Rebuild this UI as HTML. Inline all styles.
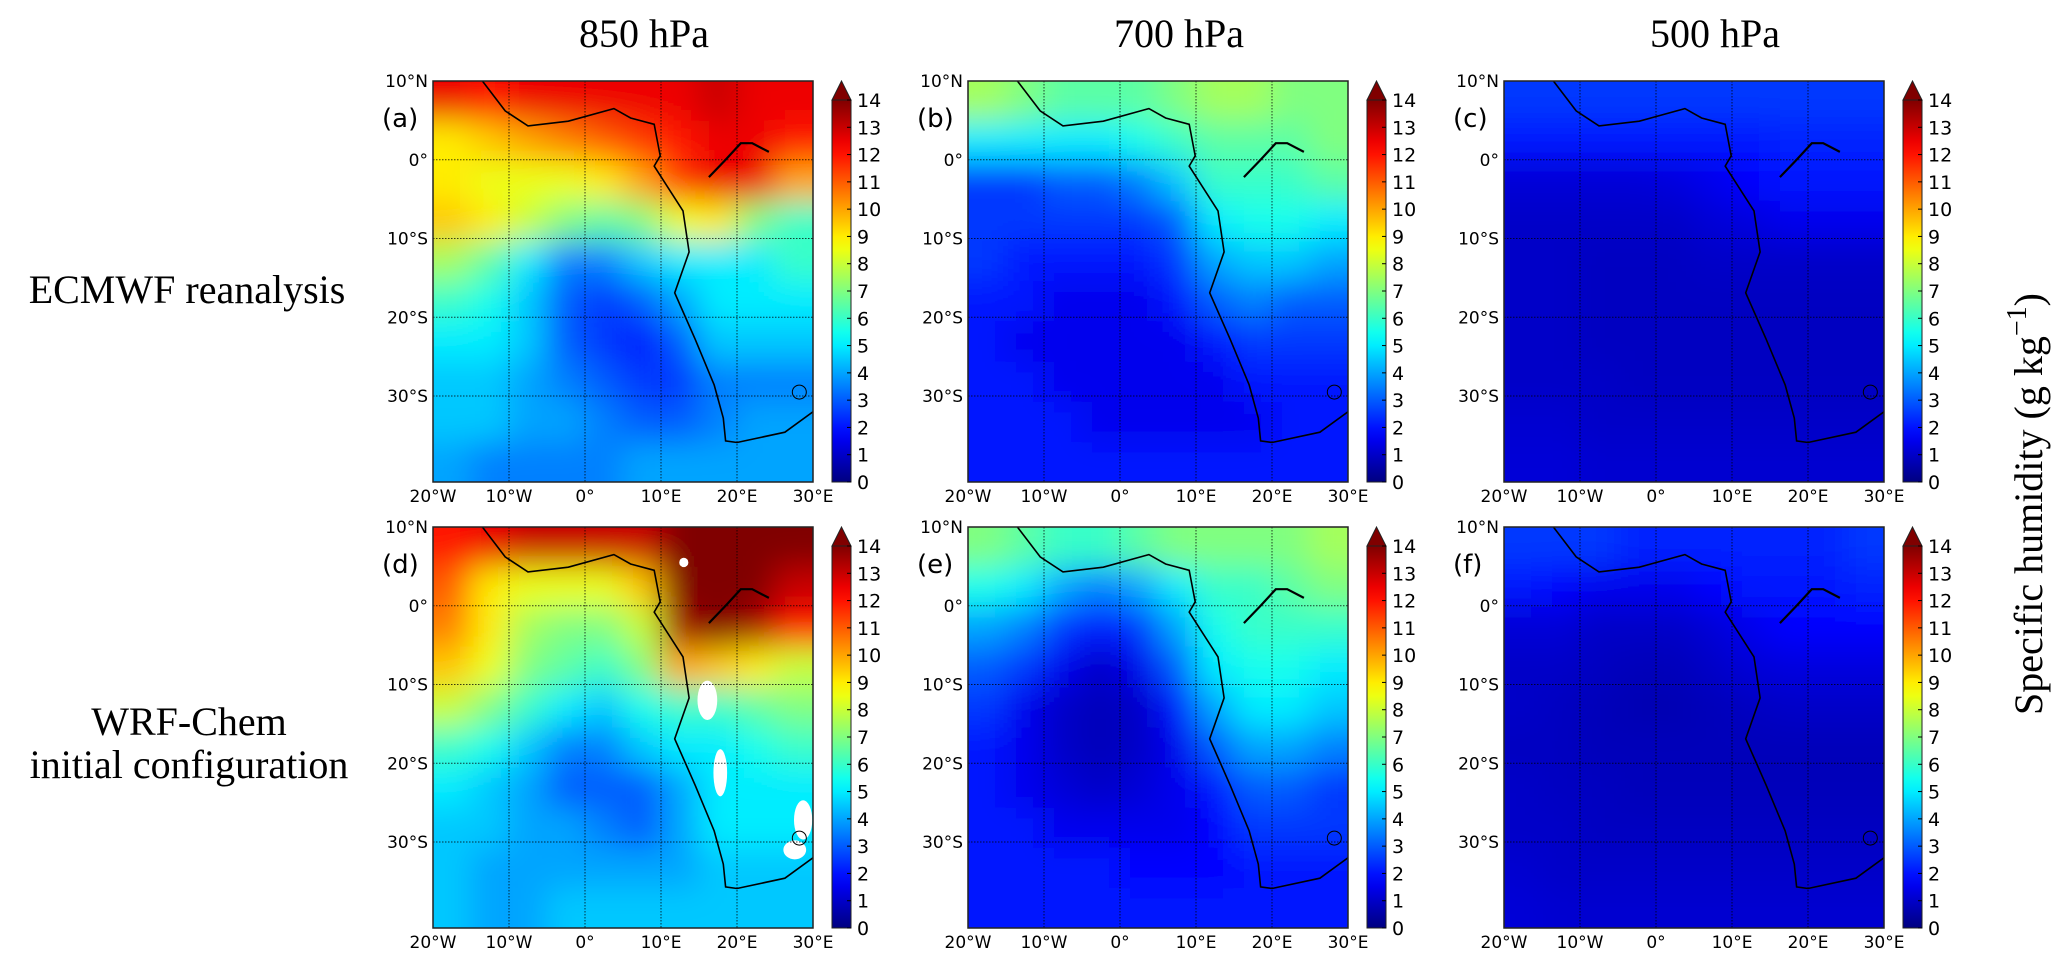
<!DOCTYPE html>
<html><head><meta charset="utf-8">
<style>
html,body{margin:0;padding:0;background:#fff;}
body{width:2067px;height:966px;overflow:hidden;position:relative;}
svg{position:absolute;left:0;top:0;}
</style></head>
<body>
<svg id="fig" width="2067" height="966" viewBox="0 0 2067 966" xmlns="http://www.w3.org/2000/svg">
<defs>
<filter id="smooth" x="-5%" y="-5%" width="110%" height="110%"><feGaussianBlur stdDeviation="16"/></filter>
<linearGradient id="jetgrad" x1="0" y1="1" x2="0" y2="0"></linearGradient>
</defs>
<text x="644" y="47" font-family="Liberation Serif, serif" font-size="40" text-anchor="middle">850 hPa</text>
<text x="1179" y="47" font-family="Liberation Serif, serif" font-size="40" text-anchor="middle">700 hPa</text>
<text x="1715" y="47" font-family="Liberation Serif, serif" font-size="40" text-anchor="middle">500 hPa</text>
<text x="187" y="303" font-family="Liberation Serif, serif" font-size="40" text-anchor="middle">ECMWF reanalysis</text>
<text x="189" y="735" font-family="Liberation Serif, serif" font-size="40" text-anchor="middle">WRF-Chem</text>
<text x="189" y="778" font-family="Liberation Serif, serif" font-size="40" text-anchor="middle">initial configuration</text>
<text transform="translate(2042,504) rotate(-90)" font-family="Liberation Serif, serif" font-size="40" text-anchor="middle">Specific humidity (g kg<tspan font-size="28" dy="-16">−1</tspan><tspan dy="16">)</tspan></text>
</svg>
<script>
// ---- data ----
const lonCenters = [-17.5,-12.5,-7.5,-2.5,2.5,7.5,12.5,17.5,22.5,27.5];
const latCenters = [7.45,2.35,-2.75,-7.85,-12.95,-18.05,-23.15,-28.25,-33.35,-38.45];
const latTicks = [10,0,-10,-20,-30];
const latTickLabels = ["10°N","0°","10°S","20°S","30°S"];
const lonTicks = [-20,-10,0,10,20,30];
const lonTickLabels = ["20°W","10°W","0°","10°E","20°E","30°E"];
const cbTicks = [0,1,2,3,4,5,6,7,8,9,10,11,12,13,14];
const panelLabels = ["(a)","(b)","(c)","(d)","(e)","(f)"];
const panelA = [
[12.5,12,12.5,12.5,12.5,12.5,12.5,13,12.5,12.5],
[9,9.5,10,10.5,11,11.5,12,12.5,12.5,12],
[9,8.5,8.5,8.5,9,10,11.5,12.5,12.5,10],
[9.5,9,8,7,6.5,7,8.5,9,7,6],
[7.5,6.5,5,3.5,3.5,4.5,5,5,5,6],
[6,5.5,4.5,3,2.5,3,4,5,5,5],
[5,5,4.5,3,2.5,2,3,4.5,4.5,4.5],
[4.5,4.5,4,3.5,3,2.5,2.5,3.5,3.5,3.5],
[4.5,4.5,4,4,3.5,3,3,3.5,4,4],
[4,3.5,3.5,3.5,3.5,4,4,4,4,4]];
const panelB = [
[7.5,7,6.5,6.5,6.5,7,7.5,7.5,7,7],
[5,5,5,5,5.5,6,6.5,6.5,6.5,7],
[2.5,2.5,3,3,3.5,4.5,6,6,6,6.5],
[2.5,2.5,2.5,2.5,2.5,3,5,5.5,5.5,5],
[2.5,2,2,2,2,2.5,4,4.5,4.5,4],
[2,2,1.5,1.5,1.5,2,3,3.5,3,3],
[2,1.5,1.5,1.5,1.5,1.5,2,2.5,2.5,2.5],
[2,2,1.5,1.5,1.5,1.5,1.5,2,2,2],
[2,2,2,1.5,1.5,1.5,1.5,1.5,2,2],
[2,2,2,2,2,2,2,2,2,2]];
const panelC = [
[2.5,2.5,2.5,2.5,2.5,2.5,2.5,2.5,2.5,2.5],
[2,2,2,2,2,2,2,2.2,2.2,2.2],
[1.2,1.2,1.2,1.2,1.3,1.5,1.8,2,2,2],
[1,1,1,1,1,1.2,1.3,1.5,1.5,1.5],
[1,1,0.9,0.9,0.9,1,1,1,1,1],
[1,1,0.9,0.9,0.9,0.9,0.9,0.9,0.9,0.9],
[1,1,0.9,0.9,0.9,0.9,0.9,0.9,0.9,0.9],
[1,1,1,0.9,0.9,0.9,0.9,0.9,0.9,0.9],
[1.1,1.1,1,1,1,1,1,1,1,1],
[1.2,1.2,1.1,1.1,1.1,1.1,1.1,1.1,1.1,1.1]];
const panelD = [
[12,12.5,13,13,13,13,14,14,14,14],
[11,9,8.5,8.5,8.5,9.5,14,14,14,13],
[10.5,9,7.5,7,7,8,13.5,14,13.5,12],
[9.5,8.5,7,6.5,6,7,10,9.5,9,8],
[8,7,6,5,4.5,5.5,6,6,6.5,7],
[6,5.5,4.5,3.5,3.5,4.5,5,5,5.5,6],
[5,4.5,4,3,3,3,4,5,5,5],
[4.5,4.5,4,4,3.5,3,4,5,5,5],
[4.5,4,4,4,4,4,4,4.5,4.5,4.5],
[4.5,4,4,4.5,4.5,4.5,4.5,4.5,4.5,4.5]];
const panelE = [
[7,6.5,6,6,6.5,7,7,7,7,7.5],
[5.5,5,4,3.5,4,5,6,6,6.5,7],
[4,3.5,2.5,2,2.5,4,5.5,6,6,6],
[3,2.5,1.5,1,1.5,3,5,5.5,5.5,5],
[2.5,1.5,1,0.8,1,2,4,5,5,4.5],
[2,1.5,1,0.8,1,1.5,3,4,4,3.5],
[2,1.5,1.2,1,1.2,1.5,2,3,3,2.5],
[2,2,1.5,1.5,1.5,1.5,1.8,2.5,2.5,2.5],
[2,2,2,2,1.8,1.8,1.8,2,2,2],
[2,2,2,2,2,2,2,2,2,2]];
const panelF = [
[2.5,2.5,2.5,2.2,2.2,2.2,2.2,2.2,2.2,2.5],
[2,1.8,1.5,1.5,1.5,1.8,2,2,2,2.2],
[1.2,1.2,1,1,1,1.2,1.5,1.8,1.8,1.8],
[1,1,0.9,0.8,0.8,1,1.2,1.3,1.3,1.3],
[1,0.9,0.8,0.7,0.7,0.8,0.9,1,1,1],
[0.9,0.9,0.8,0.8,0.8,0.8,0.8,0.8,0.8,0.8],
[1,0.9,0.9,0.8,0.8,0.8,0.8,0.8,0.8,0.8],
[1,1,0.9,0.9,0.9,0.9,0.9,0.9,0.9,0.9],
[1.1,1,1,1,1,1,1,1,1,1],
[1.2,1.1,1.1,1.1,1.1,1.1,1.1,1.1,1.1,1.1]];
const missingD = [[16.1,-12,1.3,2.5],[17.8,-21.2,0.9,3],[28.7,-27.2,1.2,2.5],[27.6,-31,1.5,1.2],[13,5.5,0.6,0.6]];
const coastLon = [-13.5,-10.5,-7.5,-2.2,3.8,6.0,9.1,9.9,9.1,12.9,13.7,11.8,14.5,17,18.2,18.5,20,26.3,30];
const coastLat = [10,6.2,4.3,4.9,6.5,5.3,4.5,0.5,-0.8,-6.5,-11.7,-16.9,-22.8,-28.6,-32.8,-35.7,-35.9,-34.6,-32];
const riverLon = [16.3,18.5,20.5,22,24.2];
const riverLat = [-2.2,0,2.1,2.1,1];

const panels = [panelA,panelB,panelC,panelD,panelE,panelF];
const NS = "http://www.w3.org/2000/svg";
const svg = document.getElementById("fig");
const lefts = [433,968,1504];
const tops = [81,527];
const W = 380, H = 401;
const lonMin=-20, lonMax=30, latMax=10, latMin=-40.92;
const VMAX = 14;

function jet(v){
  let t = Math.max(0,Math.min(1,v/VMAX));
  const c = x=>Math.round(255*Math.max(0,Math.min(1,1.5-Math.abs(x))));
  return `rgb(${c(4*t-3)},${c(4*t-2)},${c(4*t-1)})`;
}
function el(tag, attrs, parent){
  const e = document.createElementNS(NS, tag);
  for (const k in attrs) e.setAttribute(k, attrs[k]);
  (parent||svg).appendChild(e);
  return e;
}

const grad = document.getElementById("jetgrad");
for (let i=0;i<=28;i++){ el("stop",{offset:(i/28),"stop-color":jet(i*VMAX/28)},grad); }

panels.forEach((data,pi)=>{
  const L = lefts[pi%3], T = tops[Math.floor(pi/3)];
  const xs = lon => L + (lon-lonMin)/(lonMax-lonMin)*W;
  const ys = lat => T + (latMax-lat)/(latMax-latMin)*H;
  const dLon = 5, dLat = 5.1;
  const cp = el("clipPath",{id:"clip"+pi}, svg.querySelector("defs"));
  el("rect",{x:L,y:T,width:W,height:H},cp);
  const g = el("g",{"clip-path":`url(#clip${pi})`});
  
  
  const hg = el("g",{filter:"url(#smooth)"},g);
  
  
  const nr = data.length, nc = data[0].length;
  for (let r=-2;r<=nr+1;r++){
    for (let c=-2;c<=nc+1;c++){
      const rr = Math.max(0,Math.min(nr-1,r)), cc = Math.max(0,Math.min(nc-1,c));
      const lon = c<0? lonCenters[0]-dLon*( -c) : c>=nc ? lonCenters[nc-1]+dLon*(c-nc+1) : lonCenters[c];
      const lat = r<0? latCenters[0]+dLat*(-r) : r>=nr ? latCenters[nr-1]-dLat*(r-nr+1) : latCenters[r];
      const x0 = xs(lon-dLon/2), x1 = xs(lon+dLon/2), y0 = ys(lat+dLat/2), y1 = ys(lat-dLat/2);
      const cell = el("rect",{x:x0-0.5,y:y0-0.5,width:x1-x0+1,height:y1-y0+1,fill:jet(data[rr][cc])},hg);
      
      
    }
  }
  if (pi===3){
    missingD.forEach(m=>{
      const b = el("ellipse",{cx:xs(m[0]),cy:ys(m[1]),rx:m[2]*W/50,ry:m[3]*H/50.92,fill:"#fff"},g);
      
      
    });
  }
  [0,-10,-20,-30].forEach(lat=>{
    const gl = el("line",{x1:L,x2:L+W,y1:ys(lat),y2:ys(lat),stroke:"#000","stroke-width":1,"stroke-dasharray":"1.5 1.5",opacity:0.75},g);
    
    
  });
  [-10,0,10,20].forEach(lon=>{
    const gl = el("line",{x1:xs(lon),x2:xs(lon),y1:T,y2:T+H,stroke:"#000","stroke-width":1,"stroke-dasharray":"1.5 1.5",opacity:0.75},g);
    
    
  });
  const pts = coastLon.map((lo,i)=>xs(lo).toFixed(1)+","+ys(coastLat[i]).toFixed(1)).join(" ");
  const coast = el("polyline",{points:pts,fill:"none",stroke:"#000","stroke-width":1.6},g);
  
  
  const rpts = riverLon.map((lo,i)=>xs(lo).toFixed(1)+","+ys(riverLat[i]).toFixed(1)).join(" ");
  const river = el("polyline",{points:rpts,fill:"none",stroke:"#000","stroke-width":2.2},g);
  
  
  const les = el("circle",{cx:xs(28.2),cy:ys(-29.5),r:7,fill:"none",stroke:"#000","stroke-width":1},g);
  
  
  const fr = el("rect",{x:L,y:T,width:W,height:H,fill:"none",stroke:"#222","stroke-width":1.5});
  
  
  latTicks.forEach((lat,i)=>{
    const t = el("text",{x:L-5,y:ys(lat)+6,"text-anchor":"end","font-family":"DejaVu Sans, sans-serif","font-size":17});
    t.textContent = latTickLabels[i];
    
    
  });
  lonTicks.forEach((lon,i)=>{
    const t = el("text",{x:xs(lon),y:T+H+20,"text-anchor":"middle","font-family":"DejaVu Sans, sans-serif","font-size":17});
    t.textContent = lonTickLabels[i];
    
    
  });
  const pl = el("text",{x:L-51,y:T+46,"font-family":"DejaVu Sans, sans-serif","font-size":26});
  pl.textContent = panelLabels[pi];
  
  
  const cx0 = L+399, cw = 19, cTop = T+19, cBot = T+H;
  const cb = el("rect",{x:cx0,y:cTop,width:cw,height:cBot-cTop,fill:"url(#jetgrad)",stroke:"#222","stroke-width":1});
  
  
  const tri = el("polygon",{points:`${cx0},${cTop} ${cx0+cw},${cTop} ${cx0+cw/2},${T}`,fill:"rgb(128,0,0)",stroke:"#222","stroke-width":1});
  
  
  const cys = v => cBot - v/VMAX*(cBot-cTop);
  cbTicks.forEach(v=>{
    const tk = el("line",{x1:cx0+cw-4,x2:cx0+cw,y1:cys(v),y2:cys(v),stroke:"#000","stroke-width":1});
    
    
    const t = el("text",{x:cx0+cw+6,y:cys(v)+7,"font-family":"DejaVu Sans, sans-serif","font-size":19});
    t.textContent = String(v);
    
    
  });
});
</script>
</body></html>
